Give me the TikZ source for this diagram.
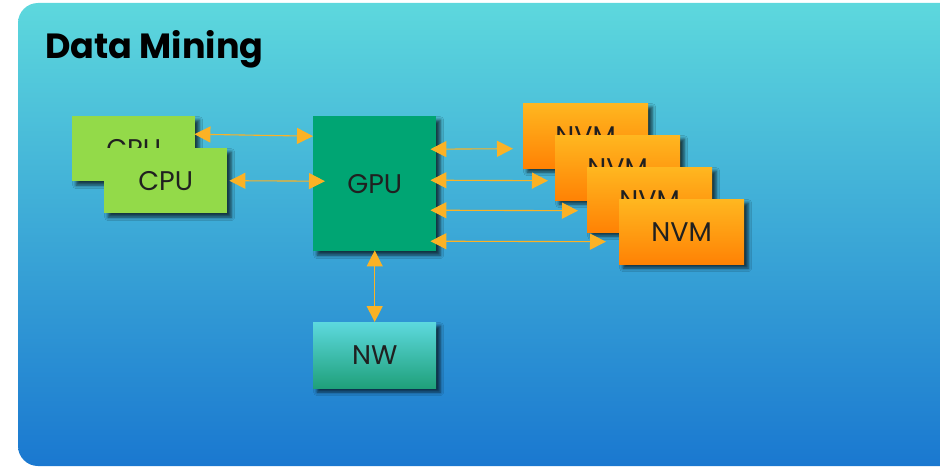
\documentclass[tikz,border=0pt]{standalone}
\usepackage{fontspec}
\setmainfont{Poppins}
\usetikzlibrary{arrows.meta,shadows.blur,calc}

\definecolor{bgtop}{HTML}{5DD8DD}
\definecolor{bgmid}{HTML}{48B4D9}
\definecolor{bgbot}{HTML}{1A78D0}
\definecolor{cpugreen}{HTML}{93DA49}
\definecolor{gpugreen}{HTML}{00A573}
\definecolor{nvmtop}{HTML}{FFB720}
\definecolor{nvmbot}{HTML}{FF8204}
\definecolor{nwtop}{HTML}{5DD9DE}
\definecolor{nwbot}{HTML}{1FA07A}
\definecolor{linkc}{HTML}{FBB225}
\definecolor{labelc}{HTML}{202020}

\tikzset{
  unit/.style={draw=none, minimum width=123pt, minimum height=65pt,
    inner sep=0pt, anchor=north west, text=labelc,
    font=\fontsize{27}{30}\selectfont,
    blur shadow={shadow xshift=4pt, shadow yshift=-4pt,
      shadow blur radius=3.5pt, shadow opacity=70}},
  cpubox/.style={unit, fill=cpugreen},
  gpubox/.style={unit, fill=gpugreen, minimum height=135pt},
  nvmbox/.style={unit, minimum width=125pt, top color=nvmtop, bottom color=nvmbot},
  nwbox/.style={unit, minimum height=66pt, top color=nwtop, bottom color=nwbot},
  link/.style={draw=linkc, line width=1.1pt,
    {Triangle[length=16pt,width=16pt,fill=linkc]}-{Triangle[length=16pt,width=16pt,fill=linkc]}}
}

\begin{document}
\begin{tikzpicture}[x=1pt,y=-1pt]
\useasboundingbox (0,0) rectangle (940,468);
\clip (0,0) rectangle (940,468);

% slide panel
\path[top color=bgtop, middle color=bgmid, bottom color=bgbot, rounded corners=20pt]
  (18,3) rectangle (990,466);

% title
\node[anchor=base west, inner sep=0pt, font=\bfseries\fontsize{35}{38}\selectfont]
  (title) at (45,59) {Data Mining};

% processors
\node[cpubox] (cpu1) at (72,116) {CPU};
\node[cpubox] (cpu2) at (104,148) {CPU};
\node[gpubox] (gpu) at (313,116) {GPU};

% memory stack
\node[nvmbox] (nvm1) at (523,103) {NVM};
\node[nvmbox] (nvm2) at (555,135) {NVM};
\node[nvmbox] (nvm3) at (587,167) {NVM};
\node[nvmbox] (nvm4) at (619,199) {NVM};

% network
\node[nwbox] (nw) at (313,322) {NW};

% links
\draw[link] ([xshift=-1pt,yshift=14.5pt]cpu1.east) -- ([yshift=47.5pt]gpu.west);
\draw[link] ([xshift=2pt]cpu2.east) -- ([xshift=12pt,yshift=2.5pt]gpu.west);
\draw[link] ([xshift=-6pt,yshift=34.5pt]gpu.east) -- ([xshift=-10pt,yshift=-13pt]nvm1.west);
\draw[link] ([xshift=-6pt,yshift=3.5pt]gpu.east) -- ([xshift=-7pt,yshift=-13pt]nvm2.west);
\draw[link] ([xshift=-6pt,yshift=-26.5pt]gpu.east) -- ([xshift=-9pt,yshift=-11pt]nvm3.west);
\draw[link] ([xshift=-6pt,yshift=-57.5pt]gpu.east) -- ([xshift=-13pt,yshift=-10pt]nvm4.west);
\draw[link] ([yshift=1pt]gpu.south) -- (nw.north);
\end{tikzpicture}
\end{document}
